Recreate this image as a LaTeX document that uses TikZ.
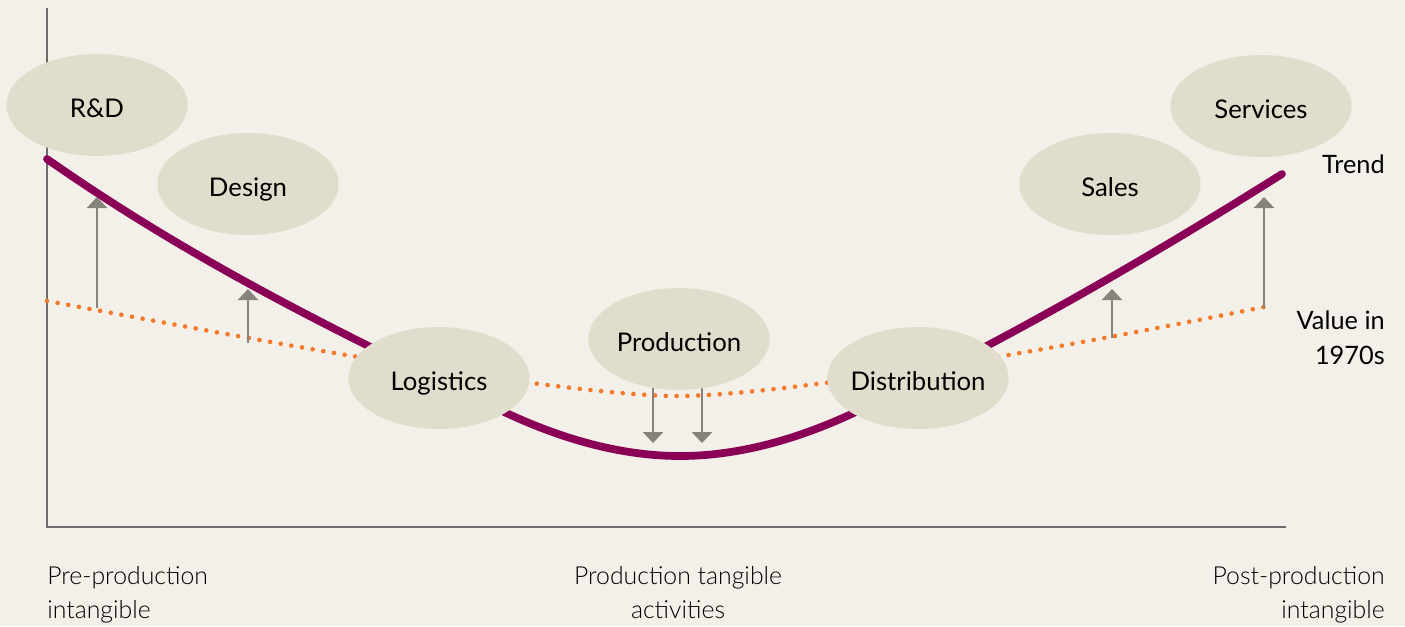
\documentclass[tikz,border=0pt]{standalone}
\usepackage{fontspec}
\setmainfont{Lato}
\newfontfamily\lightfont{Lato Light}
\usetikzlibrary{arrows.meta,shapes.geometric}
\definecolor{bgcream}{HTML}{F3F0E9}
\definecolor{blobfill}{HTML}{E1DDCC}
\definecolor{trendpurple}{HTML}{8B0057}
\definecolor{valueorange}{HTML}{F37A2B}
\definecolor{arrowgrey}{HTML}{85837C}
\definecolor{axisgrey}{HTML}{6B6B6B}

\begin{document}
\begin{tikzpicture}[x=0.75pt,y=-0.75pt]
\tikzset{blob/.style={ellipse, fill=blobfill, minimum width=136pt, minimum height=76.5pt, inner ysep=0pt, inner xsep=-10pt, text height=18.2pt, text depth=0pt, font=\fontsize{19.3}{23}\selectfont},
  liftarrow/.style={draw=arrowgrey, line width=2pt, -{Triangle[length=8.25pt,width=15pt]}},
  sidelabel/.style={inner sep=0pt, align=right, font=\fontsize{19}{26.25}\selectfont},
  footlabel/.style={inner sep=0pt, font=\lightfont\fontsize{18.6}{25.5}\selectfont}}
\fill [bgcream] (0,0) rectangle (1405,626);
\coordinate (origin) at (47,527);
\coordinate (ytop) at (47,8);
\coordinate (xend) at (1286,527);
\draw [axisgrey, line width=1.1pt] (ytop) -- (origin) -- (xend);
\draw [valueorange, line width=3.5pt, line cap=round, dash pattern=on 0pt off 8.1pt] (47,301) .. controls (208.7,330.7) and (370.3,362) .. (532,383) .. controls (598.7,391.7) and (647.3,396) .. (678,396) .. controls (708.7,396) and (757.3,391.7) .. (824,383) .. controls (972.3,363.7) and (1120.7,335.7) .. (1269,306);
\draw [trendpurple, line width=5.8pt, line cap=round] (47,159) .. controls (198,264.7) and (349,337.5) .. (500,410) .. controls (564,440.7) and (624,456) .. (680,456) .. controls (736,456) and (796,440.7) .. (860,410) .. controls (1001,342.3) and (1141,262.8) .. (1282,174);
\coordinate (rdfrom) at (97,308);
\coordinate (rdto) at (97,197);
\coordinate (designfrom) at (248,343);
\coordinate (designto) at (248,289);
\coordinate (prodfromA) at (653,388);
\coordinate (prodtoA) at (653,443);
\coordinate (prodfromB) at (702,388);
\coordinate (prodtoB) at (702,443);
\coordinate (salesfrom) at (1112,338);
\coordinate (salesto) at (1112,289);
\coordinate (servfrom) at (1264,308);
\coordinate (servto) at (1264,197);
\draw [liftarrow] (rdfrom) -- (rdto);
\draw [liftarrow] (designfrom) -- (designto);
\draw [liftarrow] (prodfromA) -- (prodtoA);
\draw [liftarrow] (prodfromB) -- (prodtoB);
\draw [liftarrow] (salesfrom) -- (salesto);
\draw [liftarrow] (servfrom) -- (servto);
\node [blob] (rd) at (97,105) {R\&D};
\node [blob] (design) at (248,184) {Design};
\node [blob] (logistics) at (439,378) {Logistics};
\node [blob] (production) at (679,339) {Production};
\node [blob] (distribution) at (918,378) {Distribution};
\node [blob] (sales) at (1110,184) {Sales};
\node [blob] (services) at (1261,106) {Services};
\node [sidelabel, anchor=base east] (trend) at (1385,173) {Trend};
\node [sidelabel, anchor=base east] (value) at (1385,364) {Value in\\1970s};
\node [footlabel, anchor=base west, align=left] (pre) at (47,618) {Pre-production\\intangible};
\node [footlabel, anchor=base, align=center] (mid) at (678,618) {Production tangible\\activities};
\node [footlabel, anchor=base east, align=right] (post) at (1385,618) {Post-production\\intangible};
\end{tikzpicture}
\end{document}
